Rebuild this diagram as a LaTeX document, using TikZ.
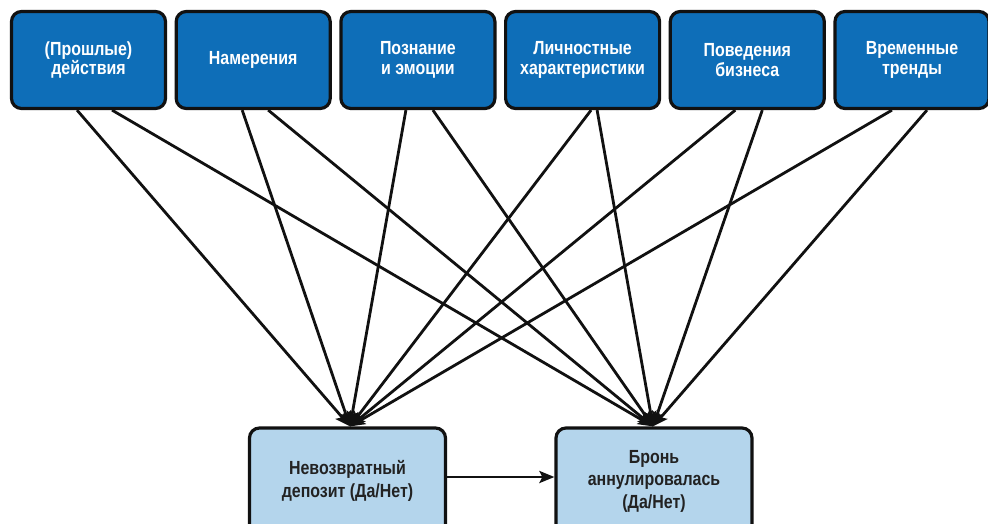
\documentclass[tikz,border=0pt]{standalone}
\usepackage{fontspec}
\setmainfont[FakeStretch=0.84]{Liberation Sans}
\usetikzlibrary{arrows.meta,calc}
\definecolor{topblue}{RGB}{14,110,184}
\definecolor{lightblue}{RGB}{180,213,236}
\definecolor{edge}{RGB}{17,17,17}
\definecolor{darktext}{RGB}{34,34,34}
\begin{document}
\begin{tikzpicture}[x=1pt,y=-1pt,
  factor/.style={draw=edge, line width=3.2pt, rounded corners=10pt, fill=topblue,
    minimum width=154pt, minimum height=97pt, inner sep=0pt, align=center,
    text=white, font=\fontsize{19}{19.5}\selectfont\bfseries},
  outcome/.style={draw=edge, line width=3.2pt, rounded corners=10pt, fill=lightblue,
    minimum width=196pt, minimum height=106pt, inner sep=0pt, align=center,
    text=darktext, font=\fontsize{19}{22.5}\selectfont\bfseries},
  link/.style={draw=edge, line width=2.8pt, -{Stealth[length=15pt,width=12pt,inset=3pt]}}
]
\useasboundingbox (0,0) rectangle (988,523);

% top row of influencing factors
\node[factor] (b1) at (88.5,60)  {(Прошлые)\\действия};
\node[factor] (b2) at (253.2,60) {Намерения};
\node[factor] (b3) at (417.9,60) {Познание\\и эмоции};
\node[factor] (b4) at (582.6,60) {Личностные\\характеристики};
\node[factor] (b5) at (747.3,60) {Поведения\\бизнеса};
\node[factor] (b6) at (912,60)   {Временные\\тренды};

% outcomes
\node[outcome] (A) at (347.5,481) {Невозвратный\\депозит (Да/Нет)};
\node[outcome] (B) at (654,481)   {Бронь\\аннулировалась\\(Да/Нет)};

% arrow end points on the outcome boxes
\coordinate (tA) at ($(A.north)+(2.5,0)$);
\coordinate (tB) at ($(B.north)+(-1,0)$);

% factor -> outcome links
\draw[link] ($(b1.south)+(-11.5,0)$) -- (tA);
\draw[link] ($(b1.south)+(23.5,0)$)  -- (tB);
\draw[link] ($(b2.south)+(-11,0)$)   -- (tA);
\draw[link] ($(b2.south)+(15,0)$)    -- (tB);
\draw[link] ($(b3.south)+(-12,0)$)   -- (tA);
\draw[link] ($(b3.south)+(15,0)$)    -- (tB);
\draw[link] ($(b4.south)+(8.5,0)$)   -- (tA);
\draw[link] ($(b4.south)+(14.5,0)$)  -- (tB);
\draw[link] ($(b5.south)+(-12,0)$)   -- (tA);
\draw[link] ($(b5.south)+(15,0)$)    -- (tB);
\draw[link] ($(b6.south)+(-20,0)$)   -- (tA);
\draw[link] ($(b6.south)+(15,0)$)    -- (tB);

% deposit -> cancellation
\draw[link] ([yshift=4pt]A.east) -- ([yshift=4pt]B.west);
\end{tikzpicture}
\end{document}
